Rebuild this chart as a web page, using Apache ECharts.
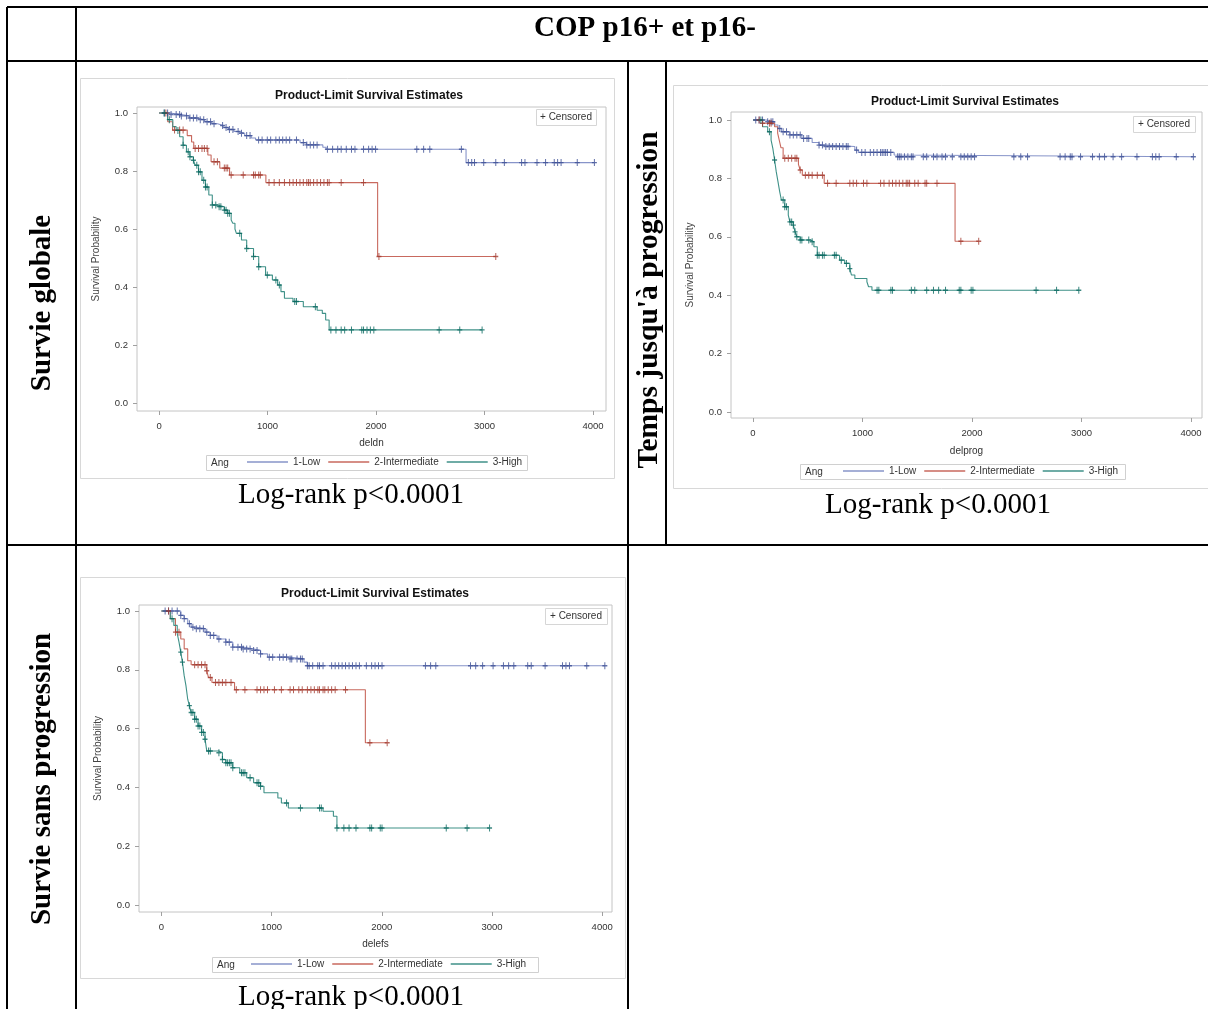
<!DOCTYPE html>
<html><head><meta charset="utf-8">
<script src="https://cdn.jsdelivr.net/npm/echarts@6/dist/echarts.min.js"></script>
<style>html,body{margin:0;padding:0;background:#fff;}#c{width:1208px;height:1009px;}</style>
</head><body><div id="c"></div>
<script>
// ---------- shared labels ----------
const groupNames = ['1-Low', '2-Intermediate', '3-High'];
const xTickValues = [0, 1000, 2000, 3000, 4000];
const yTickValues = [0, 0.2, 0.4, 0.6, 0.8, 1.0];
const headerText = 'COP p16+ et p16-';
const rowLabels = ['Survie globale', "Temps jusqu'à progression", 'Survie sans progression'];
const panelXNames = ['deldn', 'delprog', 'delefs'];
const logRankText = 'Log-rank p<0.0001';

// ---------- Panel 1: overall survival (deldn) ----------
const osLowT = [100,200,280,350,420,480,540,590,640,690,730,790,850,890,1300,1360,1510,1540,2830];
const osLowS = [0.995,0.99,0.983,0.977,0.97,0.963,0.957,0.95,0.943,0.936,0.93,0.922,0.914,0.907,0.898,0.89,0.882,0.875,0.829];
const osLowC = [48,79,111,158,190,206,253,285,317,348,380,412,443,475,507,586,618,649,681,729,760,808,839,918,950,998,1029,1077,1109,1140,1172,1204,1267,1330,1362,1394,1425,1457,1552,1600,1647,1679,1726,1774,1806,1885,1932,1964,1996,2376,2439,2496,2787,2851,2882,2908,2993,3104,3183,3342,3373,3484,3563,3643,3674,3706,3855,4013];
const osIntT = [80,125,260,300,320,450,480,560,650,985,2015];
const osIntS = [0.970,0.941,0.922,0.900,0.878,0.855,0.832,0.810,0.786,0.760,0.505];
const osIntC = [63,143,190,222,333,364,396,418,443,507,538,602,618,633,665,776,871,887,919,934,1014,1061,1109,1156,1204,1236,1267,1299,1330,1362,1378,1394,1425,1457,1489,1520,1552,1568,1679,1885,2027,3104];
const osHighT = [79,127,158,190,222,253,285,317,333,364,396,428,459,491,538,602,633,665,680,700,713,760,808,871,919,982,1045,1093,1124,1156,1235,1330,1457,1505,1536,1568];
const osHighS = [0.977,0.953,0.94,0.918,0.889,0.866,0.849,0.837,0.82,0.797,0.768,0.745,0.717,0.683,0.677,0.665,0.654,0.631,0.62,0.60,0.585,0.562,0.533,0.505,0.47,0.441,0.424,0.407,0.384,0.361,0.35,0.332,0.32,0.309,0.286,0.252];
const osHighC = [48,95,174,222,269,285,317,348,364,380,412,428,443,491,523,554,570,602,618,633,649,744,808,871,919,998,1077,1109,1251,1267,1441,1584,1631,1679,1711,1774,1869,1885,1917,1948,1980,2582,2772,2978];

// ---------- Panel 2: time to progression (delprog) ----------
const ttpLowT = [119,197,228,259,337,446,540,603,665,930,962,1289,1305];
const ttpLowS = [0.994,0.983,0.971,0.96,0.949,0.937,0.923,0.914,0.909,0.897,0.889,0.88,0.874];
const ttpLowC = [25,56,87,134,165,181,244,275,306,337,368,400,431,462,493,509,603,634,665,696,727,759,790,821,852,868,946,993,1024,1071,1102,1133,1165,1180,1196,1211,1227,1258,1321,1336,1352,1383,1414,1446,1461,1555,1586,1648,1680,1726,1758,1820,1898,1929,1961,1992,2023,2382,2445,2507,2804,2850,2897,2913,2991,3100,3163,3210,3288,3366,3506,3647,3678,3709,3865,4021];
const ttpIntT = [87,197,225,240,255,275,415,430,450,650,1845];
const ttpIntS = [0.989,0.977,0.955,0.93,0.905,0.869,0.848,0.829,0.811,0.783,0.585];
const ttpIntC = [56,87,150,165,290,322,353,384,400,431,478,509,540,587,634,681,759,884,915,946,1009,1040,1165,1196,1243,1274,1305,1336,1368,1399,1414,1430,1477,1508,1571,1586,1680,1898,2061];
const ttpHighT = [87,134,165,181,197,212,228,244,259,290,322,337,368,384,400,431,525,556,587,790,837,884,899,930,1040,1055,1086];
const ttpHighS = [0.977,0.96,0.931,0.903,0.863,0.823,0.789,0.754,0.726,0.703,0.674,0.651,0.64,0.617,0.6,0.589,0.583,0.566,0.537,0.52,0.509,0.491,0.469,0.457,0.446,0.429,0.417];
const ttpHighC = [72,150,197,275,290,306,337,353,368,384,400,431,446,509,540,587,603,634,650,743,759,806,853,884,1133,1149,1259,1274,1446,1477,1586,1648,1695,1758,1883,1898,1992,2008,2585,2772,2975];

// ---------- Panel 3: progression-free survival (delefs) ----------
const pfsLowT = [176,207,239,270,317,396,443,506,585,648,742,837,900,963,1152,1294,1325];
const pfsLowS = [0.985,0.974,0.957,0.945,0.94,0.928,0.917,0.905,0.894,0.877,0.871,0.866,0.854,0.843,0.837,0.826,0.814];
const pfsLowC = [34,65,97,144,176,207,254,286,317,349,381,412,444,475,522,585,616,648,695,727,742,774,805,837,868,900,979,1010,1073,1105,1136,1168,1183,1231,1262,1278,1325,1341,1373,1419,1435,1467,1545,1577,1609,1640,1671,1703,1734,1766,1797,1860,1908,1939,1970,2002,2396,2443,2490,2805,2852,2915,3010,3104,3151,3198,3324,3356,3482,3640,3671,3703,3860,4024];
const pfsIntT = [81,128,176,207,239,270,412,427,459,664,1851];
const pfsIntS = [0.974,0.928,0.905,0.871,0.831,0.817,0.797,0.774,0.757,0.732,0.552];
const pfsIntC = [65,128,160,302,333,365,396,412,444,491,522,554,585,632,680,758,868,900,931,963,1026,1089,1168,1199,1247,1278,1325,1357,1388,1420,1435,1467,1483,1514,1545,1577,1671,1892,2049];
const pfsHighT = [81,113,144,160,176,191,207,223,239,254,270,302,333,365,396,412,522,554,585,648,711,774,837,900,931,1057,1089,1152,1467,1561,1593];
const pfsHighS = [0.974,0.951,0.923,0.894,0.86,0.826,0.78,0.746,0.7,0.678,0.655,0.632,0.609,0.587,0.564,0.524,0.518,0.495,0.484,0.467,0.45,0.433,0.416,0.404,0.382,0.364,0.347,0.33,0.319,0.302,0.262];
const pfsHighC = [97,176,191,254,270,286,302,317,333,349,365,381,396,428,444,522,554,585,601,617,632,648,727,742,758,805,868,884,900,1136,1262,1435,1451,1593,1656,1703,1766,1892,1908,1986,2002,2585,2774,2978];

// ---------- helpers ----------
function survAt(times, surv, t) {
  let s = 1;
  for (let i = 0; i < times.length; i++) if (times[i] <= t) s = surv[i];
  return s;
}
function curve(times, surv, cens) {
  const end = Math.max(times[times.length - 1], cens[cens.length - 1]);
  const pts = [[0, 1]];
  times.forEach((t, i) => pts.push([t, surv[i]]));
  pts.push([end, surv[surv.length - 1]]);
  return pts;
}
function censPts(times, surv, cens) { return cens.map(t => [t, survAt(times, surv, t)]); }

const panelsData = [
  [[osLowT, osLowS, osLowC], [osIntT, osIntS, osIntC], [osHighT, osHighS, osHighC]],
  [[ttpLowT, ttpLowS, ttpLowC], [ttpIntT, ttpIntS, ttpIntC], [ttpHighT, ttpHighS, ttpHighC]],
  [[pfsLowT, pfsLowS, pfsLowC], [pfsIntT, pfsIntS, pfsIntC], [pfsHighT, pfsHighS, pfsHighC]]
];

// ---------- layout (positions / styles) ----------
const layout = [
  { frame: {left:137, top:107, width:469, height:304}, xMin:-203, xMax:4120, yMin:-0.0276, yMax:1.0207,
    title:[369,96], legendBox:[206,455,321,15], legendLeft:247, cens:[536,109,60,16], img:[80,78,534,400], lr:[351,495], yGap:36, xGap:27 },
  { frame: {left:731, top:112, width:471, height:306}, xMin:-201, xMax:4100, yMin:-0.0205, yMax:1.0274,
    title:[965,102], legendBox:[800,464,325,15], legendLeft:843, cens:[1133,116,62,16], img:[673,85,560,403], lr:[938,505], yGap:36, xGap:28 },
  { frame: {left:139, top:605, width:473, height:307}, xMin:-203, xMax:4089, yMin:-0.0238, yMax:1.0204,
    title:[375,594], legendBox:[212,957,326,15], legendLeft:251, cens:[545,608,62,16], img:[80,577,545,401], lr:[351,997], yGap:36, xGap:27 }
];
const LINE_COLORS = ['#8794c9', '#c8695e', '#3f9188'];
const MARK_COLORS = ['#3a4c94', '#a23a2e', '#08685f'];
const SANS = 'Liberation Sans, Arial, sans-serif';
const SERIF = 'Liberation Serif, Times New Roman, serif';
const PLUS = 'path://M4,0H6V4H10V6H6V10H4V6H0V4H4Z';

const grids = [], xAxes = [], yAxes = [], series = [], legends = [], graphics = [];

function txt(x, y, text, font, opts) {
  return Object.assign({ type:'text', x:x, y:y, z:10,
    style: Object.assign({ text:text, font:font, fill:'#000', align:'center', verticalAlign:'middle',
      textAlign:'center', textVerticalAlign:'middle' }, (opts && opts.style) || {}) }, (opts && opts.el) || {});
}

layout.forEach((L, p) => {
  graphics.push({ type:'rect', z:0, shape:{x:L.img[0]+0.5, y:L.img[1]+0.5, width:L.img[2], height:L.img[3]},
    style:{fill:'none', stroke:'#d8d8d8', lineWidth:1} });
  grids.push(Object.assign({ show:true, borderColor:'#c4c4c4', borderWidth:1, backgroundColor:'#fff' }, L.frame));
  xAxes.push({ type:'value', gridIndex:p, min:L.xMin, max:L.xMax,
    axisLine:{show:false, onZero:false}, splitLine:{show:false},
    axisTick:{show:true, customValues:xTickValues, length:4, lineStyle:{color:'#a0a0a0'}},
    axisLabel:{customValues:xTickValues, fontSize:9.5, color:'#333', margin:10, fontFamily:SANS,
      formatter: v => String(Math.round(v))},
    name:panelXNames[p], nameLocation:'middle', nameGap:L.xGap,
    nameTextStyle:{fontSize:10, color:'#333', fontFamily:SANS} });
  yAxes.push({ type:'value', gridIndex:p, min:L.yMin, max:L.yMax,
    axisLine:{show:false, onZero:false}, splitLine:{show:false},
    axisTick:{show:true, customValues:yTickValues, length:4, lineStyle:{color:'#a0a0a0'}},
    axisLabel:{customValues:yTickValues, fontSize:9.5, color:'#333', margin:9, fontFamily:SANS,
      formatter: v => Number(v).toFixed(1)},
    name:'Survival Probability', nameLocation:'middle', nameGap:L.yGap,
    nameTextStyle:{fontSize:10, color:'#444', fontFamily:SANS} });
  panelsData[p].forEach((g, gi) => {
    series.push({ type:'line', name:groupNames[gi], xAxisIndex:p, yAxisIndex:p, step:'end',
      symbol:'none', showSymbol:false, silent:true, z:2+gi,
      lineStyle:{color:LINE_COLORS[gi], width:1.1}, itemStyle:{color:LINE_COLORS[gi]},
      data:curve(g[0], g[1], g[2]) });
    series.push({ type:'scatter', name:'Censored ' + groupNames[gi], xAxisIndex:p, yAxisIndex:p,
      symbol:PLUS, symbolSize:[5,7], silent:true, z:6+gi,
      itemStyle:{color:MARK_COLORS[gi]}, data:censPts(g[0], g[1], g[2]) });
  });
  legends.push({ data:groupNames, left:L.legendLeft, top:L.legendBox[1]+2, orient:'horizontal',
    icon:'rect', itemWidth:41, itemHeight:1.5, itemGap:8, padding:0, selectedMode:false,
    textStyle:{fontSize:10, color:'#333', fontFamily:SANS} });
  graphics.push({ type:'rect', z:1, shape:{x:L.legendBox[0]+0.5, y:L.legendBox[1]+0.5, width:L.legendBox[2], height:L.legendBox[3]},
    style:{fill:'#fff', stroke:'#d0d0d0', lineWidth:1} });
  graphics.push(txt(L.legendBox[0]+5, L.legendBox[1]+8, 'Ang', '10px ' + SANS, {style:{align:'left', textAlign:'left', fill:'#333'}}));
  graphics.push({ type:'rect', z:9, shape:{x:L.cens[0]+0.5, y:L.cens[1]+0.5, width:L.cens[2], height:L.cens[3]},
    style:{fill:'#fff', stroke:'#d6d6d6', lineWidth:1} });
  graphics.push(txt(L.cens[0]+L.cens[2]/2, L.cens[1]+8.5, '+ Censored', '10px ' + SANS, {style:{fill:'#333'}}));
  graphics.push(txt(L.title[0], L.title[1], 'Product-Limit Survival Estimates', 'bold 12px ' + SANS, {style:{fill:'#111'}}));
  graphics.push(txt(L.lr[0], L.lr[1], logRankText, '29px ' + SERIF));
});

[[7,7,1208,7],[7,61,1208,61],[7,545,1208,545],[7,7,7,1009],[76,7,76,1009],[628,61,628,1009],[666,61,666,545]]
  .forEach(l => graphics.push({ type:'line', z:20, shape:{x1:l[0], y1:l[1], x2:l[2], y2:l[3]},
    style:{stroke:'#000', lineWidth:2} }));
graphics.push(txt(645, 29, headerText, 'bold 29px ' + SERIF));
graphics.push(txt(43, 303, rowLabels[0], 'bold 29px ' + SERIF, {el:{rotation:Math.PI/2}}));
graphics.push(txt(649, 300, rowLabels[1], 'bold 29.5px ' + SERIF, {el:{rotation:Math.PI/2}}));
graphics.push(txt(43, 779, rowLabels[2], 'bold 29px ' + SERIF, {el:{rotation:Math.PI/2}}));

const chart = echarts.init(document.getElementById('c'), null, {renderer:'canvas'});
chart.setOption({
  animation:false,
  backgroundColor:'#fff',
  grid:grids, xAxis:xAxes, yAxis:yAxes, series:series, legend:legends, graphic:graphics
});
</script></body></html>
